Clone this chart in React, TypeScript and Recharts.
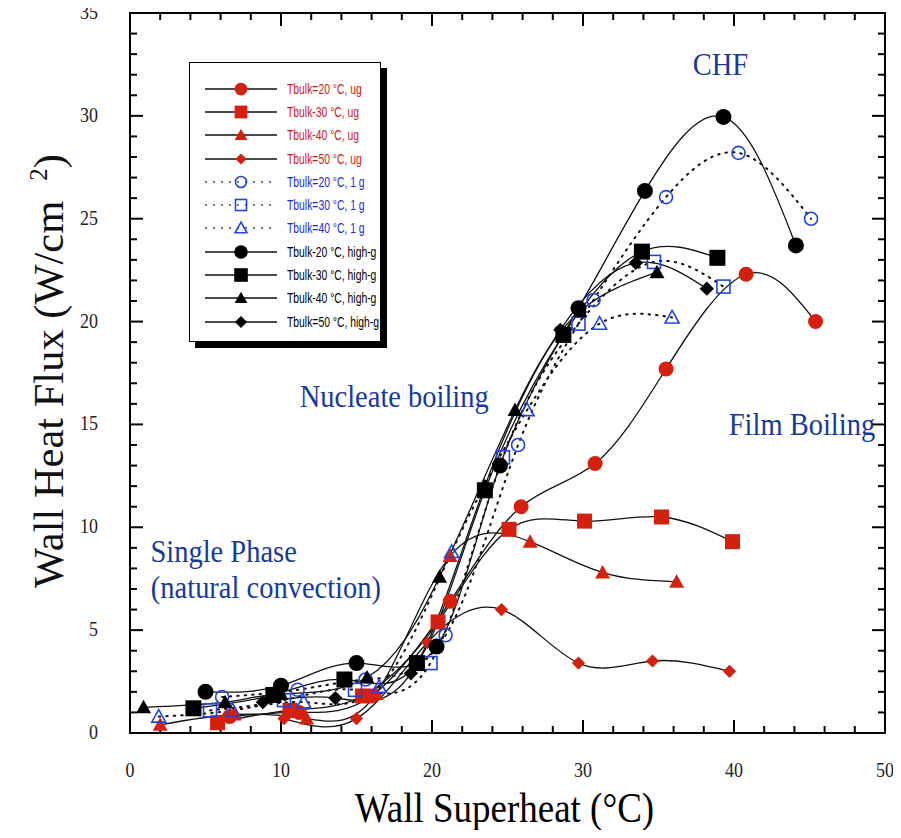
import { LineChart, Line, XAxis, YAxis, Legend, ReferenceDot, ReferenceArea } from 'recharts'

type Pt = { x: number; y: number }
type Shape = 'circle' | 'square' | 'triangle' | 'diamond'

// microgravity (ug)
const ug20: Pt[] = [
  { x: 6.6, y: 0.8 }, { x: 11.2, y: 1.0 }, { x: 16.0, y: 1.8 }, { x: 21.2, y: 6.4 }, { x: 25.9, y: 11.0 },
  { x: 30.8, y: 13.1 }, { x: 35.5, y: 17.7 }, { x: 40.8, y: 22.3 }, { x: 45.4, y: 20.0 },
]
const ug30: Pt[] = [
  { x: 5.8, y: 0.5 }, { x: 10.6, y: 1.1 }, { x: 15.4, y: 1.8 }, { x: 20.4, y: 5.4 }, { x: 25.1, y: 9.9 },
  { x: 30.1, y: 10.3 }, { x: 35.2, y: 10.5 }, { x: 39.9, y: 9.3 },
]
const ug40: Pt[] = [
  { x: 2.0, y: 0.4 }, { x: 6.9, y: 0.9 }, { x: 11.7, y: 0.7 }, { x: 16.3, y: 1.9 }, { x: 21.2, y: 8.6 },
  { x: 26.5, y: 9.3 }, { x: 31.3, y: 7.8 }, { x: 36.2, y: 7.35 },
]
const ug50: Pt[] = [
  { x: 10.2, y: 0.7 }, { x: 15.0, y: 0.7 }, { x: 19.7, y: 4.4 }, { x: 24.6, y: 6.0 }, { x: 29.7, y: 3.4 },
  { x: 34.6, y: 3.5 }, { x: 39.7, y: 3.0 },
]
// 1 g
const g20: Pt[] = [
  { x: 6.1, y: 1.75 }, { x: 11.1, y: 2.1 }, { x: 15.6, y: 2.6 }, { x: 20.9, y: 4.75 }, { x: 25.7, y: 14.0 },
  { x: 30.7, y: 21.05 }, { x: 35.5, y: 26.05 }, { x: 40.3, y: 28.2 }, { x: 45.1, y: 25.0 },
]
const g30: Pt[] = [
  { x: 5.3, y: 1.1 }, { x: 10.2, y: 1.6 }, { x: 14.9, y: 2.1 }, { x: 19.9, y: 3.4 }, { x: 24.7, y: 13.4 },
  { x: 29.7, y: 19.9 }, { x: 34.7, y: 22.9 }, { x: 39.3, y: 21.7 },
]
const g40: Pt[] = [
  { x: 1.9, y: 0.8 }, { x: 6.8, y: 1.1 }, { x: 11.5, y: 1.5 }, { x: 16.5, y: 2.25 }, { x: 21.3, y: 8.8 },
  { x: 26.3, y: 15.7 }, { x: 31.1, y: 19.9 }, { x: 35.9, y: 20.2 },
]
// high g
const hg20: Pt[] = [
  { x: 5.0, y: 2.0 }, { x: 10.0, y: 2.3 }, { x: 15.0, y: 3.4 }, { x: 20.3, y: 4.2 }, { x: 24.5, y: 13.0 },
  { x: 29.7, y: 20.65 }, { x: 34.1, y: 26.35 }, { x: 39.3, y: 29.95 }, { x: 44.1, y: 23.7 },
]
const hg30: Pt[] = [
  { x: 4.2, y: 1.2 }, { x: 9.5, y: 1.85 }, { x: 14.2, y: 2.6 }, { x: 19.0, y: 3.4 }, { x: 23.5, y: 11.8 },
  { x: 28.7, y: 19.35 }, { x: 33.9, y: 23.4 }, { x: 38.9, y: 23.1 },
]
const hg40: Pt[] = [
  { x: 0.9, y: 1.25 }, { x: 6.3, y: 1.5 }, { x: 10.0, y: 1.9 }, { x: 15.7, y: 2.7 }, { x: 20.5, y: 7.6 },
  { x: 25.5, y: 15.7 }, { x: 29.8, y: 20.5 }, { x: 34.9, y: 22.4 },
]
const hg50: Pt[] = [
  { x: 8.8, y: 1.5 }, { x: 13.6, y: 1.7 }, { x: 18.6, y: 2.9 }, { x: 23.5, y: 12.0 }, { x: 28.5, y: 19.6 },
  { x: 33.5, y: 22.85 }, { x: 38.2, y: 21.6 },
]

const xLabels = [0, 10, 20, 30, 40, 50]
const yLabels = [0, 5, 10, 15, 20, 25, 30, 35]
const xMinor = Array.from({ length: 26 }, (_, i) => i * 2)
const yMinor = Array.from({ length: 36 }, (_, i) => i)

const annotations = [
  { text: 'CHF', x: 39.1, y: 32.4 },
  { text: 'Nucleate boiling', x: 17.5, y: 16.3 },
  { text: 'Film Boiling', x: 44.5, y: 14.9 },
  { text: 'Single Phase', x: 6.2, y: 8.75 },
  { text: '(natural convection)', x: 9.0, y: 7.0 },
]

const X_MAX = 50
const Y_MAX = 35

const SERIF = '"Liberation Serif", "Times New Roman", serif'
const SANS = '"Liberation Sans", Arial, sans-serif'
const RED = '#d4210d'
const RED_TEXT = '#cc1a14'
const BLUE = '#2145dc'
const BLUE_TEXT = '#1e2ad6'
const NAVY = '#17399a'

type SeriesDef = {
  key: string
  name: string
  data: Pt[]
  shape: Shape
  color: string
  text: string
  filled: boolean
  dotted: boolean
  size: number
}

const series: SeriesDef[] = [
  { key: 'ug20', name: 'Tbulk=20 °C, ug', data: ug20, shape: 'circle', color: RED, text: RED_TEXT, filled: true, dotted: false, size: 7.5 },
  { key: 'ug30', name: 'Tbulk-30 °C, ug', data: ug30, shape: 'square', color: RED, text: RED_TEXT, filled: true, dotted: false, size: 7.5 },
  { key: 'ug40', name: 'Tbulk-40 °C, ug', data: ug40, shape: 'triangle', color: RED, text: RED_TEXT, filled: true, dotted: false, size: 7.5 },
  { key: 'ug50', name: 'Tbulk=50 °C, ug', data: ug50, shape: 'diamond', color: RED, text: RED_TEXT, filled: true, dotted: false, size: 6 },
  { key: 'g20', name: 'Tbulk=20 °C, 1 g', data: g20, shape: 'circle', color: BLUE, text: BLUE_TEXT, filled: false, dotted: true, size: 6.5 },
  { key: 'g30', name: 'Tbulk=30 °C, 1 g', data: g30, shape: 'square', color: BLUE, text: BLUE_TEXT, filled: false, dotted: true, size: 6.5 },
  { key: 'g40', name: 'Tbulk=40 °C, 1 g', data: g40, shape: 'triangle', color: BLUE, text: BLUE_TEXT, filled: false, dotted: true, size: 7 },
  { key: 'hg20', name: 'Tbulk-20 °C, high-g', data: hg20, shape: 'circle', color: '#000', text: '#000', filled: true, dotted: false, size: 8 },
  { key: 'hg30', name: 'Tbulk-30 °C, high-g', data: hg30, shape: 'square', color: '#000', text: '#000', filled: true, dotted: false, size: 8 },
  { key: 'hg40', name: 'Tbulk-40 °C, high-g', data: hg40, shape: 'triangle', color: '#000', text: '#000', filled: true, dotted: false, size: 7.5 },
  { key: 'hg50', name: 'Tbulk=50 °C, high-g', data: hg50, shape: 'diamond', color: '#000', text: '#000', filled: true, dotted: false, size: 6.5 },
]

function Marker({ shape, cx, cy, color, filled, size }: { shape: Shape; cx: number; cy: number; color: string; filled: boolean; size: number }) {
  const fill = filled ? color : '#fff'
  const sw = filled ? 0 : 1.6
  const common = { fill, stroke: color, strokeWidth: sw, fillOpacity: filled ? 1 : 0 }
  if (shape === 'circle') return <circle cx={cx} cy={cy} r={size} {...common} />
  if (shape === 'square') return <rect x={cx - size} y={cy - size} width={size * 2} height={size * 2} {...common} />
  if (shape === 'triangle') {
    const h = size
    return <polygon points={`${cx},${cy - h} ${cx + h},${cy + h * 0.8} ${cx - h},${cy + h * 0.8}`} {...common} />
  }
  const d = size * 1.1
  return <polygon points={`${cx},${cy - d} ${cx + d},${cy} ${cx},${cy + d} ${cx - d},${cy}`} {...common} />
}

function STxt({ x, y, size, fill = '#000', anchor = 'middle', sy = 1.15, family = SERIF, children }: any) {
  return (
    <text transform={`translate(${x},${y}) scale(1,${sy})`} textAnchor={anchor} fontFamily={family} fontSize={size} fill={fill}>
      {children}
    </text>
  )
}

function BottomTick(props: any) {
  const { x, y, payload } = props
  return (
    <STxt x={Number(x)} y={Number(y) + 44} size={18} fill="#222">
      {payload.value}
    </STxt>
  )
}

function LeftTick(props: any) {
  const { x, y, payload } = props
  return (
    <STxt x={Number(x) - 32} y={Number(y) + 6} size={18} anchor="end" fill="#222">
      {payload.value}
    </STxt>
  )
}

// inward tick mark drawn from the frame point (dx, dy = direction into the plot)
function tickMark(dx: number, dy: number, len: number) {
  return (p: any) => {
    const cx = Number(p.cx)
    const cy = Number(p.cy)
    return <path d={`M${cx},${cy}L${cx + dx * len},${cy + dy * len}`} stroke="#000" strokeWidth={2} fill="none" />
  }
}

function LegendBox() {
  return (
    <div
      style={{
        width: 192,
        height: 280,
        border: '1.5px solid #000',
        boxShadow: '6px 6px 0 #000',
        background: '#fff',
        boxSizing: 'border-box',
        padding: '14px 0 0 15px',
        fontFamily: SANS,
        fontSize: 14,
      }}
    >
      {series.map((s) => (
        <div key={s.key} style={{ display: 'flex', alignItems: 'center', height: 23.3 }}>
          <svg width={72} height={20} style={{ flexShrink: 0 }}>
            <line
              x1={0}
              y1={10}
              x2={72}
              y2={10}
              stroke={s.dotted ? '#777' : '#111'}
              strokeWidth={s.dotted ? 2 : 1.6}
              strokeDasharray={s.dotted ? '2 6' : undefined}
            />
            <Marker shape={s.shape} cx={36} cy={10} color={s.color} filled={s.filled} size={s.size * 0.85} />
          </svg>
          <span
            style={{
              marginLeft: 10,
              color: s.text,
              whiteSpace: 'nowrap',
              display: 'inline-block',
              transform: 'scaleX(0.74)',
              transformOrigin: 'left center',
            }}
          >
            {s.name}
          </span>
        </div>
      ))}
    </div>
  )
}

export default function App() {
  return (
    <div style={{ width: 893, height: 830, marginTop: -8, marginLeft: -8, background: '#fff' }}>
      <LineChart width={893} height={830} margin={{ top: 13, right: 8, bottom: 0, left: 0 }}>
        <XAxis
          type="number"
          dataKey="x"
          domain={[0, X_MAX]}
          ticks={xLabels}
          interval={0}
          allowDataOverflow
          height={97}
          tickSize={0}
          tickMargin={0}
          axisLine={false}
          tickLine={false}
          tick={(p: any) => <BottomTick {...p} />}
          label={{
            content: (p: any) => {
              const vb = p.viewBox || { x: 130, y: 733, width: 755, height: 97 }
              return (
                <STxt x={vb.x + vb.width / 2 - 3} y={vb.y + 89} size={37} sy={1.12}>
                  Wall Superheat (°C)
                </STxt>
              )
            },
          }}
        />
        <YAxis
          type="number"
          domain={[0, Y_MAX]}
          ticks={yLabels}
          interval={0}
          allowDataOverflow
          width={130}
          tickSize={0}
          tickMargin={0}
          axisLine={false}
          tickLine={false}
          tick={(p: any) => <LeftTick {...p} />}
          label={{
            content: (p: any) => {
              const vb = p.viewBox || { x: 0, y: 13, width: 130, height: 720 }
              const cx = vb.x + 63
              const cy = vb.y + vb.height / 2 - 2
              return (
                <text
                  transform={`translate(${cx},${cy}) rotate(-90)`}
                  textAnchor="middle"
                  fontFamily={SERIF}
                  fontSize={42.5}
                  fill="#111"
                >
                  Wall Heat Flux (W/cm
                  <tspan dx={20} dy={-16} fontSize={25}>2</tspan>
                  <tspan dy={16}>)</tspan>
                </text>
              )
            },
          }}
        />

        <ReferenceArea
          x1={0}
          x2={X_MAX}
          y1={0}
          y2={Y_MAX}
          ifOverflow="visible"
          fill="none"
          fillOpacity={0}
          stroke="#000"
          strokeWidth={2}
        />

        {/* inward ticks on all four sides */}
        {xMinor.map((t) => (
          <ReferenceDot key={`xb${t}`} x={t} y={0} ifOverflow="visible" shape={tickMark(0, -1, xLabels.includes(t) ? 13 : 7)} />
        ))}
        {xMinor.map((t) => (
          <ReferenceDot key={`xt${t}`} x={t} y={Y_MAX} ifOverflow="visible" shape={tickMark(0, 1, xLabels.includes(t) ? 13 : 7)} />
        ))}
        {yMinor.map((t) => (
          <ReferenceDot key={`yl${t}`} x={0} y={t} ifOverflow="visible" shape={tickMark(1, 0, yLabels.includes(t) ? 13 : 7)} />
        ))}
        {yMinor.map((t) => (
          <ReferenceDot key={`yr${t}`} x={X_MAX} y={t} ifOverflow="visible" shape={tickMark(-1, 0, yLabels.includes(t) ? 13 : 7)} />
        ))}

        <Legend
          layout="vertical"
          align="center"
          verticalAlign="middle"
          wrapperStyle={{ left: 189, top: 62, width: 192 }}
          content={() => <LegendBox />}
        />

        {series.map((s) => (
          <Line
            key={s.key}
            data={s.data}
            dataKey="y"
            name={s.name}
            type="natural"
            stroke="#111"
            strokeWidth={s.dotted ? 2 : 1.3}
            strokeDasharray={s.dotted ? '1.5 6' : undefined}
            strokeLinecap="round"
            isAnimationActive={false}
            activeDot={false}
            dot={(p: any) => {
              if (p.cx == null || p.cy == null) return <g key={`${s.key}-${p.index}`} />
              return (
                <Marker
                  key={`${s.key}-${p.index}`}
                  shape={s.shape}
                  cx={p.cx}
                  cy={p.cy}
                  color={s.color}
                  filled={s.filled}
                  size={s.size}
                />
              )
            }}
          />
        ))}

        {annotations.map((a) => (
          <ReferenceDot
            key={a.text}
            x={a.x}
            y={a.y}
            ifOverflow="visible"
            shape={(p: any) => (
              <STxt x={p.cx} y={p.cy + 9} size={28.5} fill={NAVY} sy={1.1}>
                {a.text}
              </STxt>
            )}
          />
        ))}
      </LineChart>
    </div>
  )
}
